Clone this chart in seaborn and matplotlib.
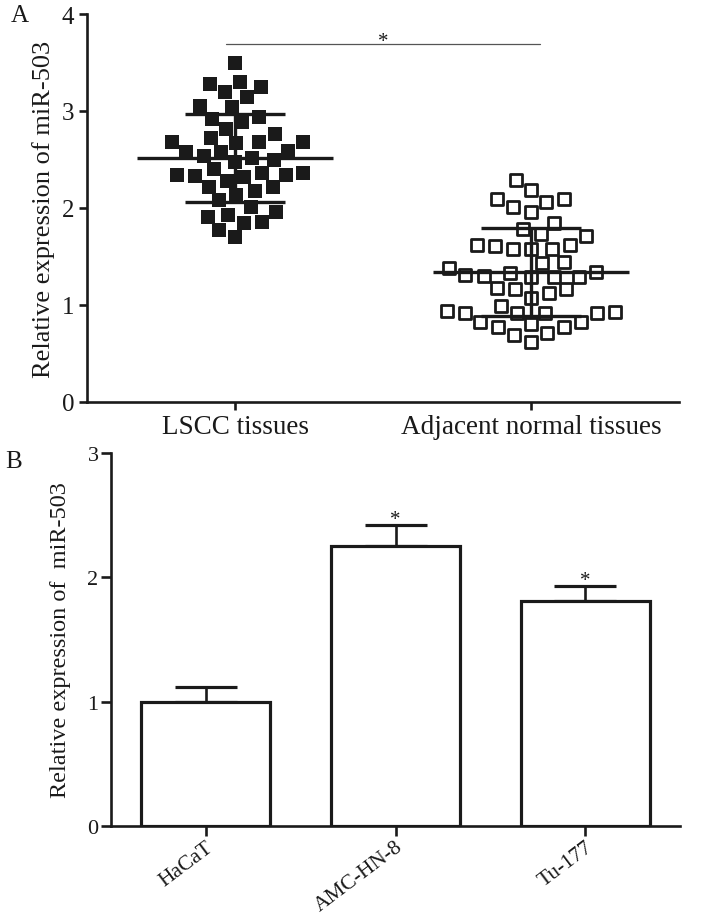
import numpy as np
import pandas as pd
import matplotlib
matplotlib.use('Agg')
import matplotlib.pyplot as plt
from matplotlib.path import Path
import seaborn as sns

# --- data ---
tissue_groups = ['LSCC tissues', 'Adjacent normal tissues']
lscc_values = [3.50, 3.28, 3.25, 3.30, 3.20, 3.14, 3.04, 3.05, 2.89, 2.92, 2.94, 2.81,
               2.76, 2.72, 2.68, 2.68, 2.67, 2.68, 2.58, 2.58, 2.59, 2.52, 2.54, 2.47,
               2.49, 2.40, 2.36, 2.36, 2.28, 2.33, 2.22, 2.32, 2.34, 2.34, 2.22, 2.18,
               2.13, 2.08, 2.01, 1.93, 1.85, 1.91, 1.96, 1.86, 1.77, 1.70]
adjacent_values = [2.29, 2.19, 2.09, 2.06, 2.09, 2.01, 1.96, 1.85, 1.78, 1.71, 1.73, 1.58,
                   1.62, 1.58, 1.58, 1.61, 1.62, 1.43, 1.44, 1.33, 1.29, 1.16, 1.29, 1.29,
                   1.30, 1.31, 1.16, 1.38, 1.34, 1.18, 1.12, 1.07, 0.99, 0.93, 0.92, 0.92,
                   0.77, 0.82, 0.71, 0.80, 0.82, 0.69, 0.92, 0.77, 0.92, 0.94, 0.62]

cell_lines = ['HaCaT', 'AMC-HN-8', 'Tu-177']
cell_means = [1.00, 2.25, 1.81]
cell_errors = [0.12, 0.17, 0.12]
cell_stars = ['', '*', '*']

ylabel_a = 'Relative expression of miR-503'
ylabel_b = 'Relative expression of  miR-503'

sns.set_style('ticks')
plt.rcParams['font.family'] = ['Liberation Serif', 'DejaVu Serif']
ink = '#1a1a1a'
lw = 1.9

# square marker with an invisible extra vertex, so the swarm keeps a gap
# between neighbours (like the Prism column scatter) while squares stay small
sq_marker = Path([(1.3, 0), (-1, -1), (1, -1), (1, 1), (-1, 1), (-1, -1)],
                 [Path.MOVETO, Path.MOVETO, Path.LINETO, Path.LINETO, Path.LINETO,
                  Path.CLOSEPOLY])

fig = plt.figure(figsize=(7.08, 9.2), dpi=100)
W, H = 708, 920

# ---------------- Panel A ----------------
ax1 = fig.add_axes([87 / W, 1 - 403 / H, (679 - 87) / W, (403 - 15) / H])

df_a = pd.DataFrame({
    'group': [tissue_groups[0]] * len(lscc_values) + [tissue_groups[1]] * len(adjacent_values),
    'value': lscc_values + adjacent_values,
})

sns.swarmplot(data=df_a[df_a['group'] == tissue_groups[0]], x='group', y='value',
              order=tissue_groups, marker=sq_marker, color=ink, size=12.2, linewidth=0,
              ax=ax1, zorder=2)
sns.swarmplot(data=df_a[df_a['group'] == tissue_groups[1]], x='group', y='value',
              order=tissue_groups, marker=sq_marker, color='white', edgecolor=ink,
              size=10.5, linewidth=2, ax=ax1, zorder=2)

# mean and SD lines
for i, g in enumerate(tissue_groups):
    vals = df_a.loc[df_a['group'] == g, 'value']
    m, sd = vals.mean(), vals.std()
    ax1.hlines(m, i - 0.33, i + 0.33, color=ink, lw=2.4, zorder=3)
    ax1.hlines([m - sd, m + sd], i - 0.17, i + 0.17, color=ink, lw=2.4, zorder=3)
    ax1.vlines(i, m - sd, m + sd, color=ink, lw=2.4, zorder=3)

ax1.plot([-0.03, 1.03], [3.69, 3.69], color='#555555', lw=0.9)
ax1.text(0.5, 3.67, '*', ha='center', va='baseline', fontsize=15, color=ink)

ax1.set_xlim(-0.5, 1.5)
ax1.set_ylim(0, 4)
ax1.set_yticks([0, 1, 2, 3, 4])
ax1.set_xlabel('')
ax1.set_ylabel(ylabel_a, fontsize=19, labelpad=5, color=ink)
ax1.tick_params(axis='both', direction='out', length=6, width=lw, labelsize=18,
                colors=ink, pad=3)
ax1.tick_params(axis='x', labelsize=19.5)
sns.despine(ax=ax1)
for s in ['left', 'bottom']:
    ax1.spines[s].set_linewidth(lw)
    ax1.spines[s].set_color(ink)

# ---------------- Panel B ----------------
ax2 = fig.add_axes([111 / W, 1 - 827 / H, (680 - 111) / W, (827 - 454) / H])

df_b = pd.DataFrame({'cell': cell_lines, 'mean': cell_means, 'err': cell_errors})

ax2.errorbar(range(len(cell_lines)), df_b['mean'],
             yerr=[np.zeros(len(cell_lines)), df_b['err']], fmt='none',
             ecolor=ink, elinewidth=lw, capsize=22, capthick=lw * 1.2, zorder=1)
sns.barplot(data=df_b, x='cell', y='mean', order=cell_lines, color='white',
            edgecolor=ink, linewidth=lw * 1.2, width=0.68, errorbar=None,
            ax=ax2, zorder=2)
for i, row in df_b.iterrows():
    if cell_stars[i]:
        ax2.text(i, row['mean'] + row['err'] + 0.01, cell_stars[i], ha='center',
                 va='baseline', fontsize=15, color=ink)

ax2.set_xlim(-0.5, 2.5)
ax2.set_ylim(0, 3)
ax2.set_yticks([0, 1, 2, 3])
ax2.set_xlabel('')
ax2.set_ylabel(ylabel_b, fontsize=17.5, labelpad=12, color=ink)
ax2.tick_params(axis='both', direction='out', length=7, width=lw, labelsize=16,
                colors=ink, pad=2)
ax2.set_xticks(range(len(cell_lines)))
ax2.set_xticklabels(cell_lines, rotation=37, ha='right', rotation_mode='anchor',
                    fontsize=15.5)
ax2.tick_params(axis='x', pad=1)
sns.despine(ax=ax2)
for s in ['left', 'bottom']:
    ax2.spines[s].set_linewidth(lw)
    ax2.spines[s].set_color(ink)

fig.text(20 / W, 1 - 16 / H, 'A', fontsize=18, ha='center', va='center', color=ink)
fig.text(14 / W, 1 - 462 / H, 'B', fontsize=18, ha='center', va='center', color=ink)

fig.savefig('out.png', dpi=100)
